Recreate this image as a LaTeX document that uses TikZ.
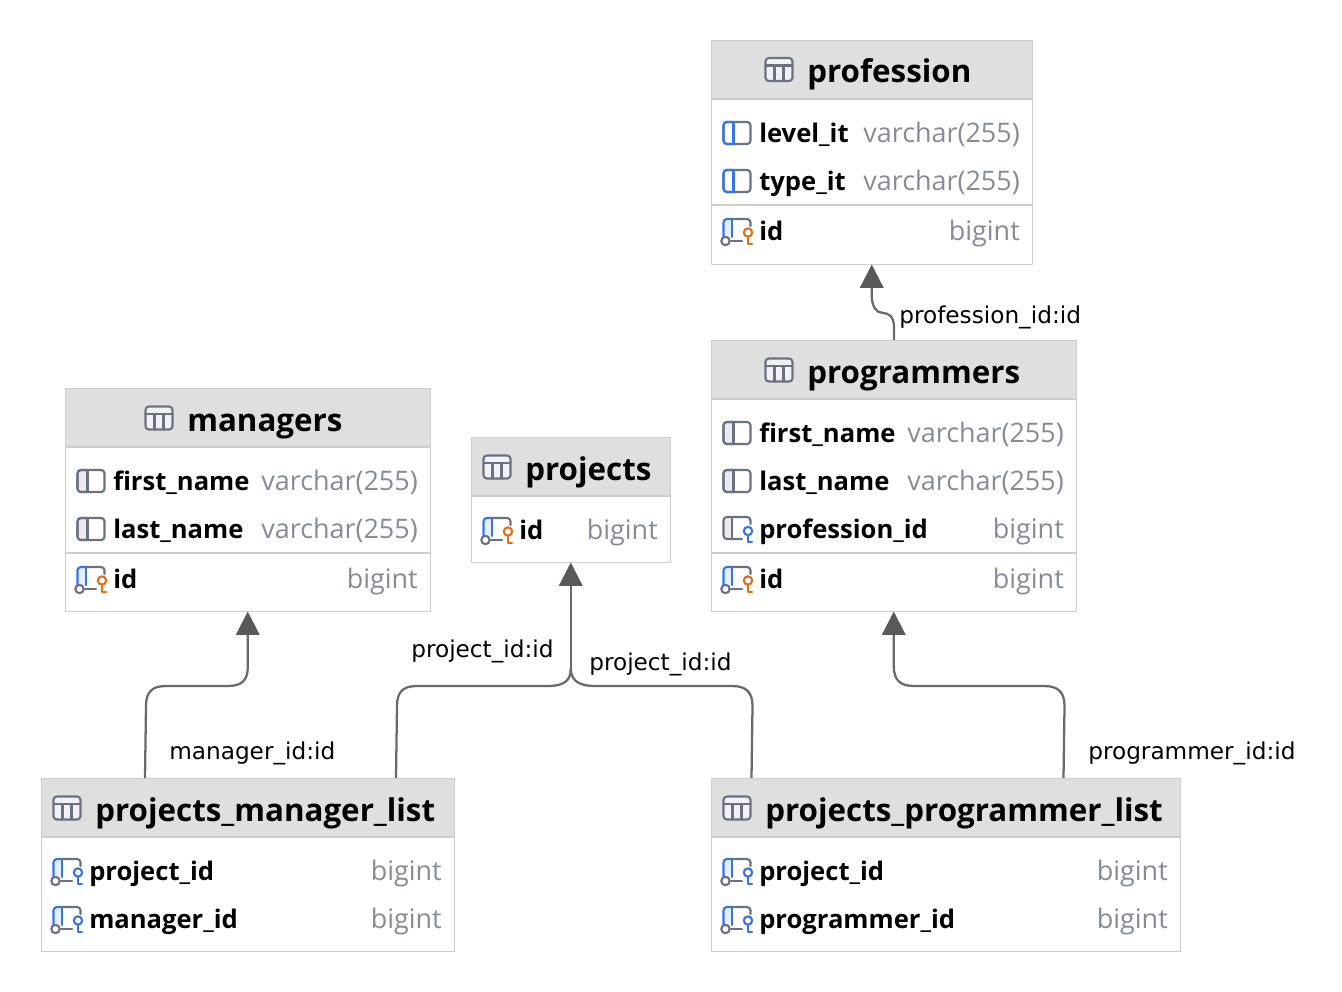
\documentclass[tikz,border=0pt]{standalone}
\usepackage{fontspec}
\usetikzlibrary{fit,calc,arrows.meta}
\setmainfont{Open Sans}
\newfontfamily\lblfont{DejaVu Sans}
\definecolor{edgegrey}{HTML}{CDCDCD}
\definecolor{headfill}{HTML}{DFDFDF}
\definecolor{typegrey}{HTML}{868A9B}
\definecolor{icongrey}{HTML}{6C7083}
\definecolor{iconblue}{HTML}{3574F0}
\definecolor{iconorange}{HTML}{E66D17}
\definecolor{lightgrey}{HTML}{EBECF0}
\definecolor{lightblue}{HTML}{E7EFFD}
\definecolor{linkgrey}{HTML}{6A6A6A}
\definecolor{tipgrey}{HTML}{595959}
\tikzset{
  x=.75pt,y=-.75pt,
  tablebox/.style={draw=edgegrey,line width=.75pt,fill=white,inner sep=0pt},
  headbox/.style={fill=headfill,inner sep=0pt},
  rule/.style={draw=edgegrey,line width=1.3pt},
  titletext/.style={anchor=base west,inner sep=0pt,font=\fontsize{23.5}{28}\selectfont\bfseries,text=black},
  nametext/.style={anchor=base west,inner sep=0pt,font=\fontsize{19.2}{24}\selectfont\bfseries,text=black},
  typetext/.style={anchor=base east,inner sep=0pt,font=\fontsize{20.2}{24}\selectfont,text=typegrey},
  linktext/.style={anchor=base west,inner sep=0pt,font=\lblfont\fontsize{17.4}{20}\selectfont,text=black},
  link/.style={draw=linkgrey,line width=1.7pt},
  linktip/.style={link,-{Triangle[length=17.5pt,width=17.5pt,color=tipgrey]}},
  iconline/.style={line width=1.6pt,line cap=round,line join=round},
}
% table outline, header and its lower rule
\newcommand{\dbtable}[6]{%
  \node[tablebox,fit={(#2-.5,#3-.5)(#4,#5)}] (#1) {};
  \node[headbox,fit={(#2,#3)(#4-.5,#6)}] (#1head) {};
  \draw[rule] (#1.west |- #1head.south) -- (#1.east |- #1head.south);
}
% header icon: a grid, x is left edge, y centre
\newcommand{\gridicon}[2]{%
  \begin{scope}[shift={(#1,#2)},iconline,draw=icongrey]
    \fill[lightgrey!70!white,rounded corners=2.5pt] (0,-11.5) rectangle (27,11.5);
    \draw[rounded corners=2.5pt] (0,-11.5) rectangle (27,11.5);
    \draw (0,-4) -- (27,-4) (9,-4) -- (9,11.5) (18,-4) -- (18,11.5);
  \end{scope}}
% plain column icon; #3 edge colour of the left part, #4 its fill
\newcommand{\colicon}[4]{%
  \begin{scope}[shift={(#1,#2)},iconline]
    \fill[#4] (1,-11) rectangle (10,11);
    \draw[icongrey,rounded corners=2.5pt] (0,-11) rectangle (27,11);
    \draw[#3,rounded corners=2.5pt] (10,-11) -- (0,-11) -- (0,11) -- (10,11);
    \draw[#3] (10,-11) -- (10,11);
  \end{scope}}
% key column icons: #3 left-part colour, #4 fill, #5 key colour
\newcommand{\keyflag}[5]{%
  \begin{scope}[shift={(#1,#2)},iconline]
    \fill[#4] (1,-12) rectangle (9,6);
    \draw[#3,rounded corners=2.5pt] (9,-12) -- (0.5,-12) -- (0.5,6);
    \draw[#3] (9,-12) -- (9,6);
    \draw[icongrey,rounded corners=2.5pt] (9,-12) -- (27.5,-12) -- (27.5,-5);
    \draw[icongrey] (8,10) -- (19,10);
    \draw[icongrey] (2.5,10) circle (4.2);
    \draw[#5] (25,1.5) circle (4.2);
    \draw[#5] (25,6) -- (25,13) -- (29,13);
  \end{scope}}
% foreign-key column without the extra link marker
\newcommand{\fkplain}[2]{%
  \begin{scope}[shift={(#1,#2)},iconline]
    \fill[lightgrey] (1,-12) rectangle (9,10);
    \draw[icongrey,rounded corners=2.5pt] (27.5,-5) -- (27.5,-12) -- (0.5,-12) -- (0.5,10) -- (19,10);
    \draw[icongrey] (9,-12) -- (9,10);
    \draw[iconblue] (25,2) circle (4.2);
    \draw[iconblue] (25,6.5) -- (25,13) -- (29,13);
  \end{scope}}
\newcommand{\pkicon}[2]{\keyflag{#1}{#2}{iconblue}{lightblue}{iconorange}}
\newcommand{\fkicon}[2]{\keyflag{#1}{#2}{iconblue}{lightblue}{iconblue}}
\begin{document}
\begin{tikzpicture}
\useasboundingbox (0,0) rectangle (1342,992);
% ---------- tables
\dbtable{profession}{712}{41}{1032}{264}{99}
\dbtable{programmers}{712}{341}{1076}{611}{399}
\dbtable{managers}{66}{389}{430}{611}{447}
\dbtable{projects}{472}{438}{670}{562}{496}
\dbtable{pml}{42}{779}{454}{951}{837}
\dbtable{ppl}{712}{779}{1180}{951}{837}
\draw[rule] (712,205) -- (1032,205);
\draw[rule] (712,553) -- (1076,553);
\draw[rule] (66,553) -- (430,553);
% ---------- titles
\gridicon{765.5}{69.5}\node[titletext] (t1) at (807,82) {profession};
\gridicon{765.5}{370}\node[titletext] (t2) at (807,383) {programmers};
\gridicon{145.5}{418}\node[titletext] (t3) at (187,431) {managers};
\gridicon{483.5}{467}\node[titletext] (t4) at (525,480) {projects};
\gridicon{53.5}{808}\node[titletext] (t5) at (95,821) {projects\_manager\_list};
\gridicon{723.5}{808}\node[titletext] (t6) at (765,821) {projects\_programmer\_list};
% ---------- profession rows
\colicon{723.5}{133}{iconblue}{white}\node[nametext] (a1) at (759,142) {level\_it};
\node[typetext] (a1t) at (1020,142) {varchar(255)};
\colicon{723.5}{181}{iconblue}{white}\node[nametext] (a2) at (759,190) {type\_it};
\node[typetext] (a2t) at (1020,190) {varchar(255)};
\pkicon{723}{231}\node[nametext] (a3) at (759,240) {id};
\node[typetext] (a3t) at (1020,240) {bigint};
% ---------- programmers rows
\colicon{723.5}{433}{icongrey}{lightgrey}\node[nametext] (b1) at (759,442) {first\_name};
\node[typetext] (b1t) at (1064,442) {varchar(255)};
\colicon{723.5}{481}{icongrey}{lightgrey}\node[nametext] (b2) at (759,490) {last\_name};
\node[typetext] (b2t) at (1064,490) {varchar(255)};
\fkplain{723}{529}\node[nametext] (b3) at (759,538) {profession\_id};
\node[typetext] (b3t) at (1064,538) {bigint};
\pkicon{723}{579}\node[nametext] (b4) at (759,588) {id};
\node[typetext] (b4t) at (1064,588) {bigint};
% ---------- managers rows
\colicon{77.5}{481}{icongrey}{lightgrey}\node[nametext] (c1) at (113,490) {first\_name};
\node[typetext] (c1t) at (418,490) {varchar(255)};
\colicon{77.5}{529}{icongrey}{lightgrey}\node[nametext] (c2) at (113,538) {last\_name};
\node[typetext] (c2t) at (418,538) {varchar(255)};
\pkicon{77}{579}\node[nametext] (c3) at (113,588) {id};
\node[typetext] (c3t) at (418,588) {bigint};
% ---------- projects rows
\pkicon{483}{530}\node[nametext] (d1) at (519,539) {id};
\node[typetext] (d1t) at (658,539) {bigint};
% ---------- link tables
\fkicon{53}{871}\node[nametext] (e1) at (89,880) {project\_id};
\node[typetext] (e1t) at (442,880) {bigint};
\fkicon{53}{919}\node[nametext] (e2) at (89,928) {manager\_id};
\node[typetext] (e2t) at (442,928) {bigint};
\fkicon{723}{871}\node[nametext] (f1) at (759,880) {project\_id};
\node[typetext] (f1t) at (1168,880) {bigint};
\fkicon{723}{919}\node[nametext] (f2) at (759,928) {programmer\_id};
\node[typetext] (f2t) at (1168,928) {bigint};
% ---------- connectors
\coordinate (p1) at ($(programmers.north west)+(183,0)$);
\coordinate (m1) at ($(pml.north west)+(104,0)$);
\coordinate (m2) at ($(pml.north west)+(355,0)$);
\coordinate (r1) at ($(ppl.north west)+(40.5,0)$);
\coordinate (r2) at ($(ppl.north west)+(352.5,0)$);
\coordinate (pj) at ($(projects.south)+(0,106)$);
\coordinate (mj) at ($(managers.south)+(0,55)$);
\coordinate (gj) at ($(programmers.south)+(0,55)$);
\coordinate (fj) at ($(profession.south)+(0,32)$);
\draw[linktip] (p1) -- ++(0,-13) .. controls +(0,-11) and +(5,0) .. (883,313) .. controls (876,313) and (872,306) .. (fj) -- (profession.south);
\draw[linktip] (m1) -- (146,706) .. controls (146,692) and (152,686) .. (166,686) -- (228,686) .. controls (242,686) and (248,680) .. (mj) -- (managers.south);
\draw[link] (m2) -- (397,706) .. controls (397,692) and (403,686) .. (417,686) -- (548,686) .. controls (562,686) and (571,682) .. (pj);
\draw[link] (r1) -- (752.5,706) .. controls (752.5,692) and (746,686) .. (732,686) -- (595,686) .. controls (581,686) and (571,682) .. (pj);
\draw[linktip] (pj) -- (projects.south);
\draw[linktip] (r2) -- (1064.5,706) .. controls (1064.5,692) and (1058,686) .. (1044,686) -- (914,686) .. controls (900,686) and (894,680) .. (gj) -- (programmers.south);
% ---------- connector labels
\node[linktext] (l1) at (899,323) {profession\_id:id};
\node[linktext] (l2) at (411,657) {project\_id:id};
\node[linktext] (l3) at (589,670) {project\_id:id};
\node[linktext] (l4) at (169,759) {manager\_id:id};
\node[linktext] (l5) at (1088,759) {programmer\_id:id};
\end{tikzpicture}
\end{document}
